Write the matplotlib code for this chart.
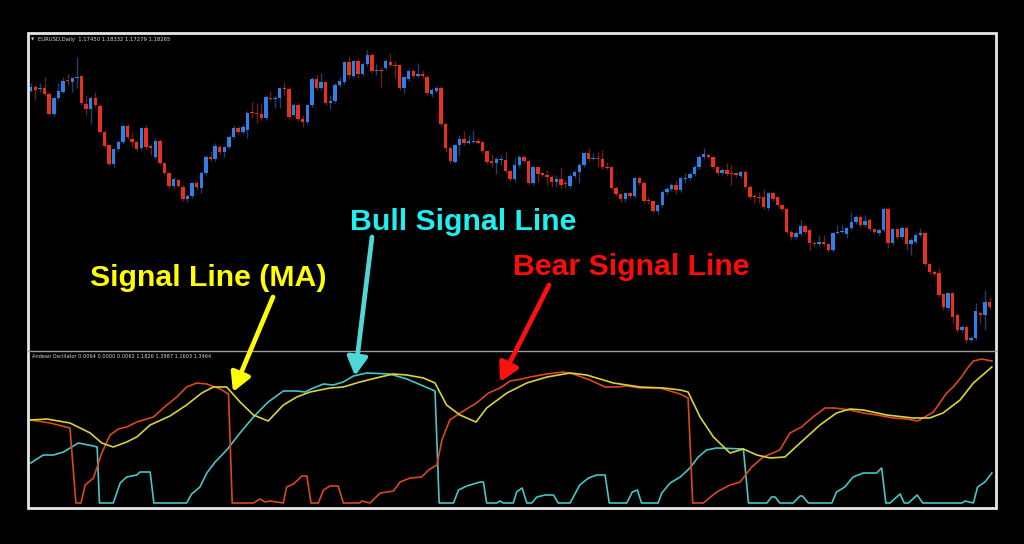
import matplotlib
matplotlib.use("Agg")
import matplotlib.pyplot as plt
import numpy as np
from matplotlib.patches import Rectangle, FancyArrowPatch

# ---------------- candle data (price-level units) -------------
opens = [269, 273, 271.5, 272, 266, 246, 262, 268, 279.5, 278,
         282, 284, 256, 251, 262, 254, 228, 215, 196, 211,
         218, 234, 221, 218, 212, 232, 214, 203, 219, 197,
         187, 174, 180, 173, 161, 164, 177, 172, 187, 203,
         201, 213, 208, 213, 223, 232, 228, 230, 248, 247.5,
         246.5, 242, 262.5, 261.5, 262, 271.5, 271, 245, 255, 241,
         238, 255, 281, 272, 278, 257, 259, 275, 278, 298,
         284, 299, 286, 296, 305, 289.5, 290, 292, 298, 295,
         295, 272, 281, 289, 284, 286, 283, 266, 269, 272,
         236, 212, 198, 215, 221, 217, 218, 219, 218, 209,
         199, 197, 200, 200, 189, 181, 195, 203, 199, 177,
         193, 187, 185, 183, 178, 181, 177, 174, 184, 188,
         195, 207, 201, 201.5, 201, 193, 193, 172, 166, 161,
         167, 164, 182, 177, 159.5, 159, 149, 155, 168, 171,
         175, 170, 181.5, 182, 186, 193, 203, 205, 203, 193,
         187, 190, 187, 187, 184, 188, 173, 164, 163, 163,
         152, 167, 163, 155, 151, 128, 123, 126, 134, 130,
         117, 116, 118, 116, 110, 127, 128, 126, 132, 138,
         143, 135, 140, 131, 127, 130, 151, 117, 131, 123,
         132, 116, 118, 125, 127, 96, 88, 87, 66, 52,
         67, 45, 30, 33, 20, 22, 47, 45, 58]

highs = [277, 275, 277, 283, 268, 263, 277, 283, 286, 283,
         303, 285, 265, 264, 268, 256, 230, 216, 212, 220,
         236, 236, 228, 220, 233, 235, 216, 222, 221, 198,
         188, 183, 181, 175, 166, 178, 179, 189, 205, 209,
         217, 215, 214, 225, 235, 234, 236, 249, 258, 257,
         257, 265, 269, 265, 273, 278, 273, 257, 257, 245,
         256, 283, 286, 287, 279, 265, 277, 283, 299, 304,
         300, 301, 298, 310, 307, 296, 293, 301, 307, 299,
         296, 284, 291, 291, 297, 290, 285, 272, 274, 274,
         237, 214, 216, 225, 229, 225, 230, 222, 219, 210,
         206, 203, 205, 209, 190, 202, 205, 205, 201, 194,
         194, 188, 190, 185, 185, 192, 180, 186, 190, 197,
         208, 212, 207, 208, 210, 198, 194, 174, 167, 168,
         168, 183, 184, 179, 163, 160, 156, 170, 173, 177,
         180, 183, 187, 188, 195, 205, 212, 207, 204, 194,
         192, 197, 195, 188, 190, 190, 175, 166, 168, 171,
         168, 169, 164, 156, 152, 130, 129, 140, 136, 132,
         119, 125, 125, 117, 128, 135, 135, 133, 148, 145,
         145, 145, 142, 132, 132, 153, 153, 132, 132, 134,
         134, 122, 127, 132, 128, 97, 90, 92, 67, 68,
         68, 47, 35, 35, 24, 57, 49, 70, 63]

lows = [268, 260, 268, 264, 245, 244, 260, 267, 275, 268,
        272, 255, 245, 236, 253, 227, 212, 194, 193, 209,
        216, 221, 213, 209, 210, 211, 205, 201, 195, 185,
        172, 172, 173, 159, 158, 162, 170, 167, 185, 199,
        199, 206, 203, 211, 222, 226, 226, 222, 242, 237,
        240, 240, 259, 252, 252, 265, 241, 243, 239, 233,
        236, 253, 270, 270, 255, 251, 257, 273, 276, 282,
        282, 282, 284, 294, 287, 285, 273, 290, 293, 282,
        270, 267, 279, 282, 283, 282, 265, 263, 267, 234,
        208, 197, 197, 205, 215, 216, 217, 216, 207, 196,
        193, 186, 195, 187, 179, 178, 193, 197, 175, 175,
        178, 183, 175, 173, 173, 172, 172, 172, 182, 177,
        193, 199, 200, 193, 191, 191, 170, 164, 158, 158,
        162, 162, 175, 157, 156, 147, 146, 153, 166, 169,
        166, 168, 177, 180, 184, 191, 201, 201, 191, 185,
        185, 184, 175, 183, 182, 171, 161, 157, 157, 151,
        150, 159, 153, 149, 126, 120, 121, 124, 126, 110,
        113, 114, 114, 108, 108, 126, 127, 122, 130, 136,
        133, 133, 129, 126, 125, 128, 112, 115, 121, 121,
        110, 105, 116, 123, 94, 86, 84, 63, 50, 50,
        37, 28, 28, 17, 18, 20, 37, 30, 51]

closes = [273, 270, 272, 266, 246, 262, 269, 279, 279, 282,
          283, 257, 251, 262, 255, 228, 214, 196, 211, 218,
          234, 223, 218, 211, 232, 213, 212, 219, 197, 187,
          174, 181, 174, 161, 164, 177, 173, 187, 203, 201,
          214, 208, 213, 223, 232, 228, 233, 247, 247.5, 246.5,
          242, 263, 261, 262, 272, 271, 243, 255, 241, 238,
          255, 281, 272, 278, 257, 259, 275, 279, 298, 285,
          299, 286, 296, 305, 289, 290, 289.5, 299, 295, 294.5,
          272, 283, 289, 284, 286, 284, 267, 270, 272, 236,
          212, 199, 215, 221, 217, 219, 218.5, 217, 209, 198,
          197, 201, 200.5, 189, 181, 195, 203, 199, 177, 193,
          186, 185, 183, 178, 181, 175, 176.5, 184, 188, 195,
          207, 201, 201.5, 201, 193, 192.5, 172, 166, 161, 167,
          164, 182, 177, 159, 159, 149, 155, 168, 171, 175,
          170, 182, 182, 186, 193, 203, 206, 203, 193, 187,
          190, 186, 186.5, 185, 188, 173, 163, 163, 162.5, 153,
          167, 161, 155, 151, 128, 123, 127, 134, 128, 117,
          116, 118, 116, 110, 127, 128, 129, 132, 138, 143,
          135, 139, 131, 128, 130, 151, 117, 131, 123, 132,
          116, 120, 125, 127, 96, 88, 86, 65, 53, 67,
          43, 30, 33, 20, 22, 49, 45, 58, 53]

# ---------------- Andean oscillator lines (bar index, level) ----------------------
bear_idx = [0, 4.2, 8.5, 9.8, 10.9, 11.8, 13.6, 15.4, 17.2, 19.0,
            20.8, 23.0, 26.6, 29.5, 31.7, 33.8, 36.0, 38.2, 41.1, 42.9,
            43.7, 48.3, 49.7, 50.8, 51.9, 54.8, 55.5, 57.0, 58.8, 59.9,
            60.8, 62.4, 63.5, 64.9, 66.7, 67.8, 71.4, 71.8, 73.6, 75.8,
            78.7, 80.1, 82.3, 84.8, 86.3, 88.1, 89.2, 90.9, 93.5, 96.7,
            99.3, 101.8, 104.0, 106.5, 108.3, 111.9, 115.5, 117.7, 121.3, 124.6,
            127.1, 129.3, 132.2, 136.5, 140.9, 142.6, 143.6, 145.9, 148.8, 151.7,
            153.9, 156.4, 158.9, 162.5, 164.7, 167.2, 169.7, 172.3, 174.4, 177.7,
            180.6, 183.5, 187.1, 190.0, 192.5, 194.7, 195.8, 197.2, 198.7, 200.1,
            201.9, 203.4, 204.5, 206.3, 208.5]
bear_val = [83, 80, 75, 0, 0, 18, 25, 50, 68, 74,
            76, 81, 86, 98, 106, 116, 120, 119, 114, 109,
            0, 0, 4, 1, 2, 0, 16, 19, 27, 27,
            0, 0, 13, 17, 17, 0, 0, 2, 0, 10,
            12, 21, 25, 26, 33, 38, 63, 83, 91, 100,
            110, 115, 122, 124, 126, 129, 131, 129, 123, 116,
            116, 117, 115, 115, 109, 105, 0, 0, 11, 18,
            21, 36, 46, 53, 70, 76, 86, 95, 95, 93,
            90, 88, 85, 84, 82, 88, 91, 100, 110, 116,
            126, 136, 142, 144, 142]

bull_idx = [0, 2.7, 4.9, 7.1, 10.3, 13.6, 14.4, 14.9, 17.9, 19.4,
            20.8, 23.0, 23.7, 25.9, 26.7, 33.8, 34.9, 36.7, 38.2, 40.0,
            42.5, 45.4, 48.3, 51.5, 54.8, 57.7, 59.5, 61.3, 63.5, 65.6,
            67.8, 70.0, 72.9, 77.9, 81.6, 87.7, 88.6, 91.7, 92.8, 94.6,
            97.5, 98.2, 98.9, 101.1, 101.8, 102.5, 104.7, 105.4, 106.6, 107.6,
            108.7, 109.8, 111.6, 113.4, 114.4, 117.0, 119.1, 121.0, 122.8, 124.6,
            125.5, 129.3, 130.5, 131.6, 132.5, 136.1, 136.9, 138.7, 140.9, 143.0,
            144.8, 146.6, 148.8, 154.6, 155.7, 159.7, 160.7, 161.5, 162.5, 165.4,
            166.9, 167.4, 168.7, 173.8, 174.8, 176.6, 178.4, 180.6, 183.5, 184.6,
            185.5, 186.4, 188.6, 189.5, 190.4, 192.3, 193.5, 202.0, 202.7, 204.5,
            205.4, 207.0, 208.5]
bull_val = [40, 48, 48, 51, 60, 57, 56, 0, 0, 20,
            26, 28, 31, 31, 0, 0, 9, 16, 30, 41,
            53, 70, 86, 101, 112, 112, 111, 115, 119, 118,
            121, 127, 130, 129, 124, 112, 0, 0, 13, 17,
            21, 21, 0, 0, 2, 0, 0, 11, 15, 0,
            0, 6, 8, 8, 0, 0, 18, 25, 28, 28,
            0, 0, 11, 13, 0, 0, 10, 20, 26, 35,
            46, 53, 55, 54, 0, 0, 6, 6, 0, 0,
            7, 7, 0, 0, 11, 16, 26, 30, 30, 35,
            0, 0, 9, 0, 0, 8, 0, 0, 2, 0,
            16, 21, 30]

signal_idx = [0, 3.5, 8.5, 12.9, 15.4, 17.9, 20.8, 23.0, 25.9, 30.2,
              33.8, 37.1, 39.6, 42.5, 45.4, 48.3, 51.5, 54.8, 57.7, 60.6,
              64.9, 67.8, 71.4, 75.8, 78.7, 81.6, 85.2, 87.7, 90.2, 93.1,
              96.6, 98.9, 103.3, 107.6, 112.0, 117.0, 120.6, 126.4, 132.2, 137.2,
              140.9, 142.6, 145.2, 148.1, 151.7, 154.6, 157.5, 160.4, 163.6, 166.9,
              171.2, 174.8, 177.7, 180.6, 185.7, 191.4, 195.0, 197.9, 201.6, 204.5,
              208.5]
signal_val = [83, 84, 80, 70, 60, 56, 61, 66, 78, 87,
              98, 110, 116, 116, 101, 88, 82, 98, 106, 111,
              115, 116, 121, 126, 129, 128, 125, 120, 98, 88,
              81, 95, 110, 120, 126, 130, 128, 120, 116, 115,
              113, 111, 86, 66, 50, 54, 48, 45, 46, 60,
              78, 90, 94, 93, 88, 85, 85, 90, 103, 120,
              136]

price_title = "EURUSD,Daily  1.17450 1.18332 1.17279 1.18265"
osc_title = "Andean Oscillator 0.0064 0.0000 0.0062 1.1826 1.3987 1.1603 1.3464"

# ---------------- figure ---------------------------------------------------------
W, H = 1024, 544
fig = plt.figure(figsize=(10.24, 5.44), dpi=100, facecolor="black")
L, R, T, S, B = 28, 996, 33, 351, 508
ax1 = fig.add_axes([L / W, 1 - S / H, (R - L) / W, (S - T) / H])
ax2 = fig.add_axes([L / W, 1 - B / H, (R - L) / W, (B - S) / H])
for ax in (ax1, ax2):
    ax.set_facecolor("black")
    ax.set_xticks([])
    ax.set_yticks([])
    for s in ax.spines.values():
        s.set_visible(False)
    ax.set_xlim(-0.6, 209.4)
ax1.set_ylim(9, 327)
ax2.set_ylim(-5, 152)

x = np.arange(len(opens))
o = np.array(opens, dtype=float)
c = np.array(closes, dtype=float)
up = c >= o
body_col = np.where(up, "#2f7fe6", "#e8301e")
wick_col = np.where(up, "#1f406e", "#6e2014")
ax1.vlines(x, lows, highs, colors=wick_col, lw=1.0, zorder=1)
ax1.bar(x, np.maximum(np.abs(c - o), 0.9), bottom=np.minimum(o, c), width=0.74,
        color=body_col, linewidth=0, zorder=2)

ax2.plot(bull_idx, bull_val, color="#45c6c8", lw=1.2, zorder=2)
ax2.plot(bear_idx, bear_val, color="#d9481c", lw=1.2, zorder=3)
ax2.plot(signal_idx, signal_val, color="#d6d43a", lw=1.2, zorder=4)

# ---------------- overlay: frame, titles, annotations ----------------------------
ov = fig.add_axes([0, 0, 1, 1])
ov.set_xlim(0, W)
ov.set_ylim(H, 0)
ov.axis("off")
ov.patch.set_alpha(0)
ov.add_patch(Rectangle((L, T), R - L, B - T, fill=False, ec="#e6e6e6", lw=2))
ov.plot([L, R], [S, S], color="#9c9c9c", lw=1)

ov.text(33, 39.5, "\u25BC", color="#d0d0d0", fontsize=3, ha="center", va="center",
        family="DejaVu Sans")
ov.text(37.5, 39.5, price_title, color="#d8d8d8", fontsize=3.8, ha="left", va="center",
        family="DejaVu Sans")
ov.text(31.5, 356, osc_title, color="#d8d8d8", fontsize=3.6, ha="left", va="center",
        family="DejaVu Sans")

fkw = dict(fontsize=21.8, fontweight="bold", family="Liberation Sans", ha="left",
           va="baseline")
ov.text(90, 286, "Signal Line (MA)", color="#ffff00", **fkw)
ov.text(350, 230, "Bull Signal Line", color="#1ef0f0", **fkw)
ov.text(513, 275, "Bear Signal Line", color="#ff0a0a", **fkw)

for (x0, y0), (x1, y1), col in [((273, 297), (233, 392), "#ffff00"),
                                ((372, 237), (355, 376), "#4fd6d6"),
                                ((549, 285), (500, 382), "#ff1010")]:
    ov.add_patch(FancyArrowPatch((x0, y0), (x1, y1),
                                 arrowstyle="-|>,head_length=1.0,head_width=0.55",
                                 mutation_scale=11, lw=3.4, color=col,
                                 shrinkA=0, shrinkB=0, zorder=10))

fig.savefig("out.png", dpi=100, facecolor="black")
